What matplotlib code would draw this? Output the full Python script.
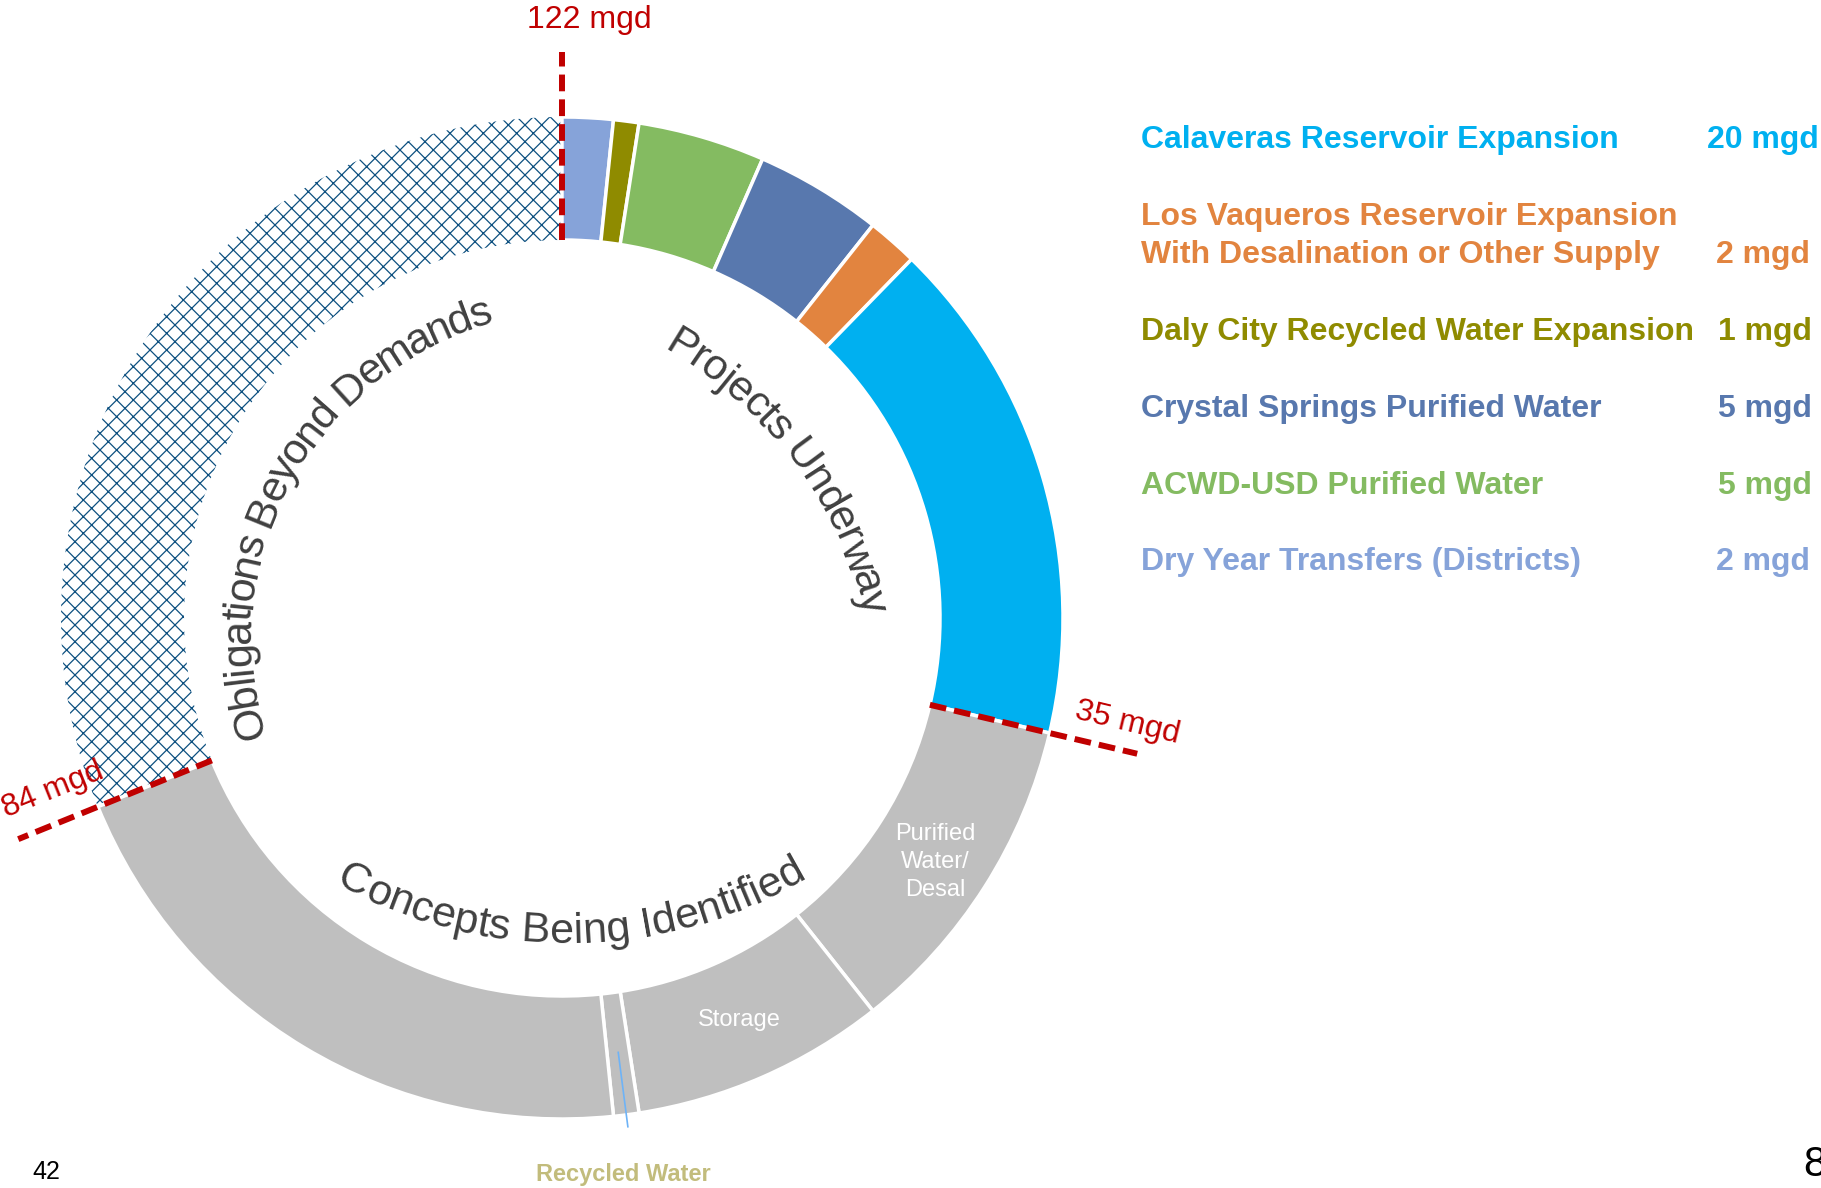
import numpy as np
import matplotlib
matplotlib.use("Agg")
import matplotlib.pyplot as plt
from matplotlib.font_manager import FontProperties

W, H = 1821, 1188
FONT = "Liberation Sans"

# ring segments, clockwise from 12 o'clock (mgd)
segment_names = ["Dry Year Transfers (Districts)",
                 "Daly City Recycled Water Expansion",
                 "ACWD-USD Purified Water",
                 "Crystal Springs Purified Water",
                 "Los Vaqueros Reservoir Expansion\nWith Desalination or Other Supply",
                 "Calaveras Reservoir Expansion",
                 "Purified\nWater/\nDesal", "Storage", "Recycled Water", "Other Concepts",
                 "Obligations Beyond Demands"]
segment_mgd = [2, 1, 5, 5, 2, 20, 13, 10, 1, 25, 38]
segment_colors = ["#86A3D9", "#8F8B00", "#84BB61", "#5878AE", "#E2843F", "#00B0F0",
                  "#BFBFBF", "#BFBFBF", "#BFBFBF", "#BFBFBF", "white"]
group_names = ["Projects Underway", "Concepts Being Identified", "Obligations Beyond Demands"]
group_sizes = [6, 4, 1]

legend_order = [5, 4, 1, 3, 2, 0]
white_labels = [6, 7]
recycled_idx = 8

# layout (pixels, y measured from top)
CX, CY = 562, H - 618
R, R_IN = 501, 378
HATCH = "#0D5080"
RED = "#C00000"

plt.rcParams["hatch.linewidth"] = 0.9
fig = plt.figure(figsize=(W / 100, H / 100), dpi=100)
ax = fig.add_axes([0, 0, 1, 1])

wedges, _ = ax.pie(segment_mgd, colors=segment_colors, startangle=90, counterclock=False,
                   center=(CX, CY), radius=R,
                   wedgeprops=dict(width=R - R_IN, edgecolor="white", linewidth=2.5))
hw = wedges[-1]
hw.set_hatch("xx")
hw.set_edgecolor(HATCH)
hw.set_linewidth(0)
hw.set_zorder(0.5)

ax.set_xlim(0, W)
ax.set_ylim(0, H)
ax.set_aspect("equal")
ax.axis("off")

total = sum(segment_mgd)
cum = np.cumsum(segment_mgd)


def clock_angle(v):
    # math angle (radians) of a cumulative value, clockwise from the top
    return np.deg2rad(90 - 360.0 * v / total)


# dashed red markers at group boundaries
bounds = np.cumsum([sum(segment_mgd[a:a + n]) for a, n in
                    zip(np.cumsum([0] + group_sizes[:-1]), group_sizes)])
marker_len = [591, 587, 566]
marker_txt_pos = [(1127, 723), (53, 790), (589, 28)]
marker_rot = [-13.5, 22, 0]
for v, ro, (tx, ty), rot in zip(bounds, marker_len, marker_txt_pos, marker_rot):
    a = clock_angle(v)
    ax.plot([CX + R_IN * np.cos(a), CX + ro * np.cos(a)],
            [CY + R_IN * np.sin(a), CY + ro * np.sin(a)],
            color=RED, lw=4.3, ls=(0, (2.8, 1.35)), dash_capstyle="butt", zorder=5)
    ax.text(tx, H - ty, f"{v} mgd", color=RED, fontsize=23, family=FONT,
            ha="center", va="baseline" if rot == 0 else "center", rotation=rot,
            zorder=6)

# labels inside gray segments
label_dy = [-7, 3]
for i, dy in zip(white_labels, label_dy):
    a = clock_angle(cum[i] - segment_mgd[i] / 2)
    ax.text(CX + 442 * np.cos(a), CY + 442 * np.sin(a) + dy, segment_names[i],
            color="white", fontsize=17, family=FONT, ha="center", va="center",
            linespacing=1.35, zorder=6)

# recycled water leader
a = clock_angle(cum[recycled_idx] - segment_mgd[recycled_idx] / 2)
ax.plot([CX + 438 * np.cos(a), CX + 513 * np.cos(a)],
        [CY + 438 * np.sin(a), CY + 513 * np.sin(a)], color="#6EB3F7", lw=1.2, zorder=6)
ax.text(623, H - 1174, segment_names[recycled_idx], color="#C2BC7C", fontsize=17,
        family=FONT, weight="bold", ha="center", va="center")

# curved group titles
renderer = fig.canvas.get_renderer()


def fit_circle(p1, p2, p3):
    (x1, y1), (x2, y2), (x3, y3) = p1, p2, p3
    d = 2 * (x1 * (y2 - y3) + x2 * (y3 - y1) + x3 * (y1 - y2))
    ux = ((x1**2 + y1**2) * (y2 - y3) + (x2**2 + y2**2) * (y3 - y1) + (x3**2 + y3**2) * (y1 - y2)) / d
    uy = ((x1**2 + y1**2) * (x3 - x2) + (x2**2 + y2**2) * (x1 - x3) + (x3**2 + y3**2) * (x2 - x1)) / d
    return ux, uy, np.hypot(x1 - ux, y1 - uy)


def curved_text(text, pts, size, tops_out):
    pts = [(x, H - y) for x, y in pts]
    ux, uy, rad = fit_circle(*pts)
    prop = FontProperties(family=FONT, size=size)
    cumw = [renderer.get_text_width_height_descent(text[:k], prop, ismath=False)[0]
            if k else 0.0 for k in range(len(text) + 1)]
    centers = [(cumw[k] + cumw[k + 1]) / 2 for k in range(len(text))]
    f0 = np.arctan2(pts[0][1] - uy, pts[0][0] - ux)
    f2 = np.arctan2(pts[2][1] - uy, pts[2][0] - ux)
    df = (f2 - f0 + np.pi) % (2 * np.pi) - np.pi
    em = size * 100 / 72
    rb = rad - 0.3 * em if tops_out else rad + 0.3 * em
    for ch, s in zip(text, centers):
        if ch == " ":
            continue
        t = (s - centers[0]) / (centers[-1] - centers[0])
        f = f0 + t * df
        rot = np.degrees(f) - 90 if tops_out else np.degrees(f) + 90
        ax.text(ux + rb * np.cos(f), uy + rb * np.sin(f), ch, fontproperties=prop,
                color="#404040", rotation=rot, rotation_mode="anchor",
                ha="center", va="baseline", zorder=6)


curved_text(group_names[0], [(682, 345), (808, 463), (873, 602)], 31, True)
curved_text(group_names[1], [(355, 880), (585, 930), (790, 872)], 31, False)
curved_text(group_names[2], [(248, 722), (273, 487), (480, 313)], 31, True)

# legend for projects underway
legend_baseline = [148, 225, 340, 417, 494, 570]
value_x = [1707, 1716, 1718, 1718, 1718, 1716]
for i, yb, vx in zip(legend_order, legend_baseline, value_x):
    lines = segment_names[i].split("\n")
    for k, line in enumerate(lines):
        fig.text(1141 / W, 1 - (yb + 38 * k) / H, line, color=segment_colors[i],
                 fontsize=23, family=FONT, weight="bold", ha="left", va="baseline")
    fig.text(vx / W, 1 - (yb + 38 * (len(lines) - 1)) / H, f"{segment_mgd[i]} mgd",
             color=segment_colors[i], fontsize=23, family=FONT, weight="bold",
             ha="left", va="baseline")

# page numbers
fig.text(32 / W, 1 - 1172 / H, "42", fontsize=18, family=FONT, ha="left", va="center")
fig.text(1803 / W, 1 - 1165 / H, "8", fontsize=30, family=FONT, ha="left", va="center")

fig.savefig("out.png", dpi=100, facecolor="white")
